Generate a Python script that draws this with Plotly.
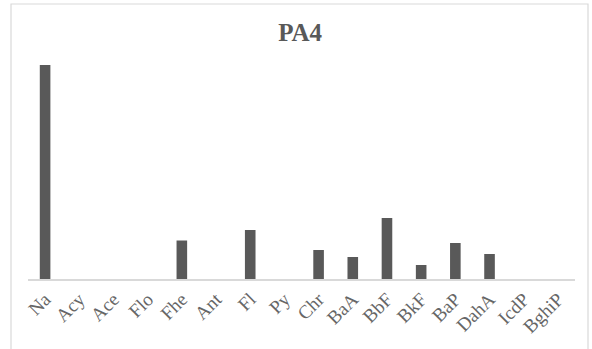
import plotly.graph_objects as go

categories = ["Na", "Acy", "Ace", "Flo", "Fhe", "Ant", "Fl", "Py", "Chr", "BaA",
              "BbF", "BkF", "BaP", "DahA", "IcdP", "BghiP"]
values = [214, 0, 0, 0, 38.5, 0, 49, 0, 29, 22, 61, 14, 36, 25, 0, 0]

fig = go.Figure(go.Bar(x=categories, y=values, marker_color="#595959",
                       marker_line_width=0))

fig.update_layout(
    width=592, height=349,
    margin=dict(l=28, r=17, t=49, b=70),
    paper_bgcolor="white", plot_bgcolor="white",
    bargap=0.69,
    showlegend=False,
    title=dict(text="<b>PA4</b>", x=0.507, xanchor="center", xref="container",
               y=1 - 32 / 349, yanchor="middle", yref="container",
               font=dict(family="Liberation Serif", size=25, color="#595959")),
    xaxis=dict(tickangle=-45, showline=True, linecolor="#d9d9d9", linewidth=1.5,
               ticks="", automargin=False,
               tickfont=dict(family="Liberation Serif", size=19, color="#666666"),
               showgrid=False),
    yaxis=dict(range=[0, 230], visible=False, showgrid=False, automargin=False),
    shapes=[dict(type="rect", xref="paper", yref="paper",
                 x0=(11 - 28) / 547, x1=(588 - 28) / 547,
                 y0=(279 - 352) / 230, y1=(279 - 4) / 230,
                 line=dict(color="#d9d9d9", width=1.2), fillcolor="rgba(0,0,0,0)")],
)

fig.write_html("out.html", config={"displayModeBar": False},
               post_script="document.body.style.margin='0';")
